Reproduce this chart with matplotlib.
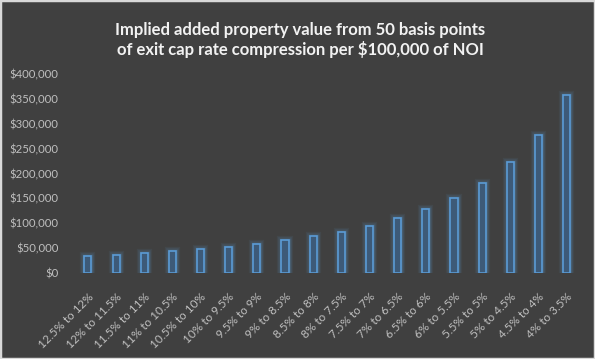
import matplotlib
matplotlib.use("Agg")
import matplotlib.pyplot as plt
from matplotlib.ticker import FuncFormatter

# cap rate steps (from -> to) and implied added value per $100,000 NOI
labels = ["12.5% to 12%", "12% to 11.5%", "11.5% to 11%", "11% to 10.5%",
          "10.5% to 10%", "10% to 9.5%", "9.5% to 9%", "9% to 8.5%",
          "8.5% to 8%", "8% to 7.5%", "7.5% to 7%", "7% to 6.5%",
          "6.5% to 6%", "6% to 5.5%", "5.5% to 5%", "5% to 4.5%",
          "4.5% to 4%", "4% to 3.5%"]
values = [33333, 36232, 39526, 43290, 47619, 52632, 58480, 65359,
          73529, 83333, 95238, 109890, 128205, 151515, 181818, 222222,
          277778, 357143]

BG = "#404040"
EDGE = "#5b9bd5"
TXT = "#bfbfbf"

plt.rcParams["font.family"] = ["Lato", "DejaVu Sans"]

fig = plt.figure(figsize=(5.95, 3.59), dpi=100, facecolor=BG)
fig.patches.append(plt.Rectangle((0, 0), 1, 1, transform=fig.transFigure,
                                 fill=False, edgecolor="#d9d9d9", linewidth=2.5))
ax = fig.add_axes([0.124, 0.2396, 0.852, 0.5544])
ax.set_facecolor(BG)

x = range(len(values))
# soft glow behind bars
for lw, a in [(6, 0.08), (4, 0.12), (2.5, 0.18)]:
    ax.bar(x, values, width=0.25, color="none", edgecolor=EDGE, linewidth=lw, alpha=a)
ax.bar(x, values, width=0.25, color="#3d5a78", edgecolor=EDGE, linewidth=1.2)

ax.set_ylim(0, 400000)
ax.set_xlim(-0.5, len(values) - 0.5)
ax.set_yticks(range(0, 400001, 50000))
ax.yaxis.set_major_formatter(FuncFormatter(lambda v, p: "${:,.0f}".format(v)))
ax.set_xticks(list(x))
ax.set_xticklabels(labels, rotation=45, ha="right", rotation_mode="anchor")
ax.tick_params(axis="both", length=0, colors=TXT, labelsize=8.5)
ax.tick_params(axis="y", pad=11, labelsize=8.2)
ax.tick_params(axis="x", pad=13)
for s in ax.spines.values():
    s.set_visible(False)

fig.text(0.505, 0.889, "Implied added property value from 50 basis points\n"
         "of exit cap rate compression per $100,000 of NOI",
         ha="center", va="center", color="#f2f2f2", fontsize=12,
         fontweight="bold", linespacing=1.25)

fig.savefig("out.png", dpi=100, facecolor=BG)
